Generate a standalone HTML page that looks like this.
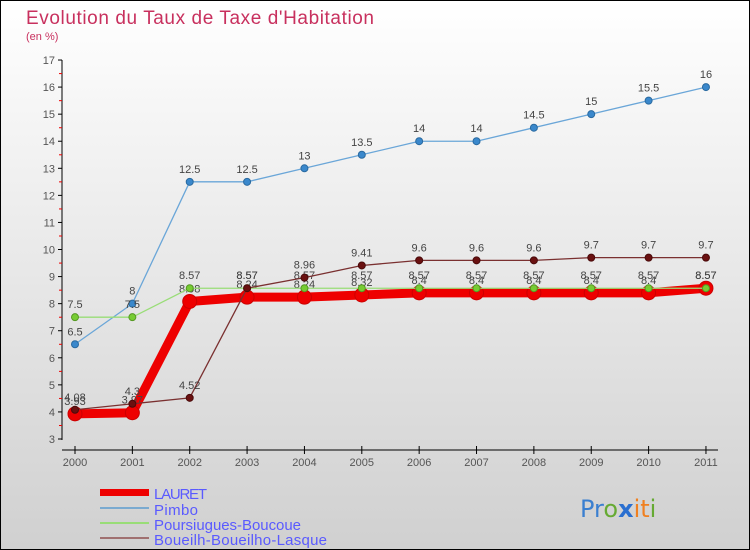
<!DOCTYPE html>
<html><head><meta charset="utf-8"><style>
body{margin:0}
svg{display:block;font-family:"Liberation Sans",sans-serif}
</style></head><body>
<svg width="750" height="550" viewBox="0 0 750 550">
<defs><linearGradient id="bg" x1="0" y1="0" x2="0" y2="1"><stop offset="0" stop-color="#ffffff"/><stop offset="1" stop-color="#d0d0d0"/></linearGradient></defs>
<rect x="0.5" y="0.5" width="749" height="549" fill="url(#bg)" stroke="#000"/>
<text x="26" y="24" font-size="19" fill="#c8305e" textLength="348">Evolution du Taux de Taxe d'Habitation</text>
<text x="26" y="40" font-size="11" fill="#c8305e">(en %)</text>
<g id="axes"></g><g id="series"></g>
<g>
<rect x="100" y="489" width="49" height="7" fill="#e00"/>
<text x="154" y="499" font-size="15" fill="#5a5aff" textLength="53">LAURET</text>
<line x1="100" y1="508" x2="149" y2="508" stroke="#7aaad0" stroke-width="2"/>
<text x="154" y="515" font-size="15" fill="#5a5aff" textLength="44">Pimbo</text>
<line x1="100" y1="523" x2="149" y2="523" stroke="#99dd77" stroke-width="2"/>
<text x="154" y="530" font-size="15" fill="#5a5aff" textLength="147">Poursiugues-Boucoue</text>
<line x1="100" y1="538" x2="149" y2="538" stroke="#a07070" stroke-width="2"/>
<text x="154" y="545" font-size="15" fill="#5a5aff" textLength="173">Boueilh-Boueilho-Lasque</text>
</g>
<text x="580" y="517" font-size="24" font-family="'DejaVu Sans',sans-serif"><tspan fill="#3a7fd0">Pr</tspan><tspan fill="#66aa33">o</tspan><tspan fill="#2a6fd0" font-weight="bold">x</tspan><tspan fill="#f08020">it</tspan><tspan fill="#66aa33">i</tspan></text>
</svg>
<script>
const years=["2000","2001","2002","2003","2004","2005","2006","2007","2008","2009","2010","2011"];
const yTicks=[3,4,5,6,7,8,9,10,11,12,13,14,15,16,17];
const lauret=[3.93,3.97,8.08,8.24,8.24,8.32,8.4,8.4,8.4,8.4,8.4,8.57];
const pimbo=[6.5,8,12.5,12.5,13,13.5,14,14,14.5,15,15.5,16];
const pours=[7.5,7.5,8.57,8.57,8.57,8.57,8.57,8.57,8.57,8.57,8.57,8.57];
const boueilh=[4.08,4.3,4.52,8.57,8.96,9.41,9.6,9.6,9.6,9.7,9.7,9.7];
const NS="http://www.w3.org/2000/svg";
const X=i=>75+i*57.36, Y=v=>439-(v-3)*27.07;
function mk(t,a,p){const e=document.createElementNS(NS,t);for(const k in a)e.setAttribute(k,a[k]);p.appendChild(e);return e;}
const ax=document.getElementById('axes');
const ya=mk('line',{x1:62,y1:60,x2:62,y2:440,stroke:'#000'},ax);


const xa=mk('line',{x1:62,y1:450,x2:718,y2:450,stroke:'#000'},ax);


yTicks.forEach(v=>{const y=Y(v);mk('line',{x1:58,y1:y,x2:62,y2:y,stroke:'#000'},ax);
if(v<17)mk('line',{x1:59,y1:y-13.5,x2:62,y2:y-13.5,stroke:'#e00'},ax);
const t=mk('text',{x:55,y:y+4,'font-size':11,'text-anchor':'end',fill:'#555'},ax);t.textContent=v;

});
years.forEach((yr,i)=>{const x=X(i);mk('line',{x1:x,y1:446,x2:x,y2:454,stroke:'#000'},ax);
const t=mk('text',{x:x,y:466,'font-size':11,'text-anchor':'middle',fill:'#555'},ax);t.textContent=yr;

});
const sg=document.getElementById('series');
function draw(d,name,col,w,r,fill,stroke){const g=mk('g',{},sg);


mk('polyline',{points:d.map((v,i)=>X(i)+','+Y(v)).join(' '),fill:'none',stroke:col,'stroke-width':w,'stroke-linejoin':'round'},g);
d.forEach((v,i)=>{mk('circle',{cx:X(i),cy:Y(v),r:r,fill:fill,stroke:stroke,'stroke-width':1},g);
const t=mk('text',{x:X(i),y:Y(v)-9,'font-size':11,'text-anchor':'middle',fill:'#444'},g);t.textContent=v;});}
draw(lauret,'series-lauret','#e00',9,7,'#e00','#c00');
draw(pimbo,'series-pimbo','#6aa6d8',1.3,3.5,'#3a88cc','#2a6aa0');
draw(pours,'series-poursiugues','#99dd77',1.3,3.5,'#77cc33','#559922');
draw(boueilh,'series-boueilh','#7a3030',1.3,3.5,'#6a1010','#4a0a0a');
</script>
</body></html>
